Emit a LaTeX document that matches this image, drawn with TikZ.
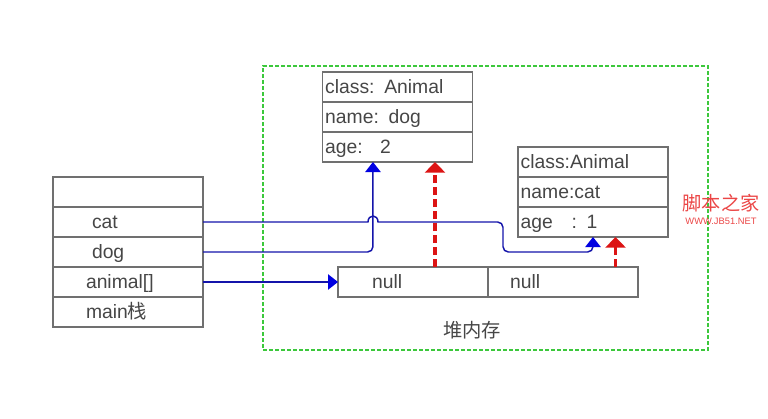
\documentclass[tikz,border=0pt]{standalone}
\usepackage{fontspec}
\setmainfont{Liberation Sans}
\newfontfamily\cjkfont{Noto Sans CJK SC}
\usetikzlibrary{arrows.meta,positioning}
\definecolor{boxgray}{RGB}{112,112,112}
\definecolor{txtgray}{RGB}{70,70,70}
\definecolor{linkblue}{RGB}{20,20,170}
\definecolor{tipblue}{RGB}{0,0,225}
\definecolor{refred}{RGB}{220,20,20}
\definecolor{heapgreen}{RGB}{60,200,60}
\definecolor{markred}{RGB}{235,70,70}
\tikzset{
  cell/.style={draw=boxgray, line width=0.9pt, outer sep=0pt, minimum height=22.5pt,
    inner ysep=0pt, text height=13pt, text depth=3.2pt, text=txtgray,
    font=\fontsize{14.5}{17}\selectfont, align=left},
  stackcell/.style={cell, text width=63pt, inner xsep=24.75pt},
  objcell/.style={cell, text width=108.5pt, inner xsep=2pt},
  nullcell/.style={cell, text width=79.5pt, inner xsep=16.5pt},
  link/.style={linkblue, line width=1.1pt, -{Triangle[width=11.5pt,length=7.5pt,color=tipblue]}},
  ref/.style={refred, line width=2.3pt, dash pattern=on 6pt off 3pt,
    -{Triangle[width=15pt,length=8pt]}},
  heapframe/.style={draw=heapgreen, line width=0.8pt, dash pattern=on 3pt off 1.5pt,
    minimum width=333.75pt, minimum height=213pt}
}
\begin{document}
\begin{tikzpicture}[x=0.75pt, y=-0.75pt]
    \useasboundingbox (0,0) rectangle (768,418);
    % heap frame
    \node[heapframe] (heap) at (485.5,208) {};
    \node[text=txtgray, font=\cjkfont\fontsize{14.5}{17}\selectfont] (heaplbl) at (472,330) {堆内存};
    % stack
    \node[stackcell] (top) at (128,192) {};
    \node[stackcell, below=0pt of top] (cat) {\hspace{4.5pt}cat};
    \node[stackcell, below=0pt of cat] (dog) {\hspace{4.5pt}dog};
    \node[stackcell, below=0pt of dog] (animal) {animal[]};
    \node[stackcell, below=0pt of animal] (mainlbl) {main{\cjkfont 栈}};
    % dog object
    \node[objcell] (dogclass) at (397.5,87) {class: Animal};
    \node[objcell, below=0pt of dogclass] (dogname) {name: dog};
    \node[objcell, below=0pt of dogname] (dogage) {age:\hspace{13pt}2};
    % cat object
    \node[objcell] (catclass) at (593,162) {class:Animal};
    \node[objcell, below=0pt of catclass] (catname) {name:cat};
    \node[objcell, below=0pt of catname] (catage) {age\hspace{14pt}: 1};
    % array
    \node[nullcell] (nullA) at (413,282) {\hspace{9pt}null};
    \node[nullcell, right=0pt of nullA] (nullB) {null};
    % references
    \draw[link] (animal.east) -- (nullA.west);
    \draw[link, rounded corners=4pt] (dog.east) -| ([xshift=-18.4pt]dogage.south);
    \draw[link] (cat.east) -- (368,222) .. controls (368,214) and (378,214) .. (378,222)
      [rounded corners=4pt] -- (503,222) -- (503,252) -- (593,252) -- (catage.south);
    \draw[ref] ([xshift=16.5pt]nullA.north) -- ([xshift=16.5pt]nullA.north |- dogage.south);
    \draw[ref] ([xshift=39.4pt]nullB.north) -- ([xshift=39.4pt]nullB.north |- catage.south);
    % watermark
    \node[text=markred, font=\cjkfont\fontsize{14.4}{16}\selectfont] (mark) at (721,203) {脚本之家};
    \node[text=markred, font=\fontsize{7}{8}\selectfont, below=-2.5pt of mark] (markurl) {WWW.JB51.NET};
\end{tikzpicture}
\end{document}
